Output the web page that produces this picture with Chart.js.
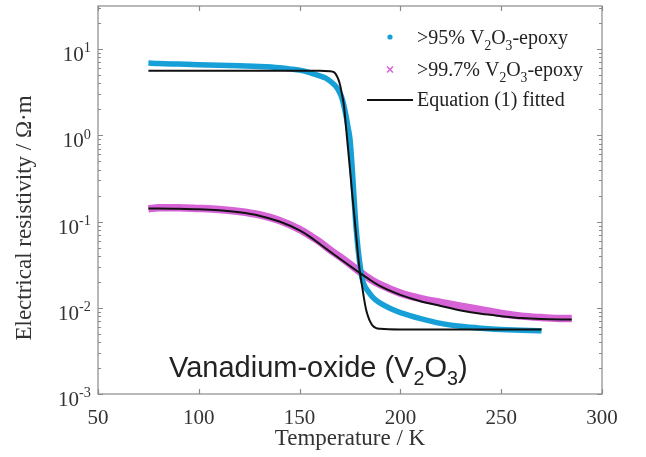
<!DOCTYPE html>
<html>
<head>
<meta charset="utf-8">
<script src="https://cdn.jsdelivr.net/npm/chart.js@4/dist/chart.umd.min.js"></script>
<style>
  html, body { margin: 0; padding: 0; background: #ffffff; }
  canvas { display: block; }
</style>
</head>
<body>
<canvas id="chart" width="646" height="457"></canvas>
<script>
// Measured resistivity, >95% V2O3-epoxy composite (temperature in K, resistivity in ohm·m)
const blueT   = [75, 80, 90, 100, 110, 120, 130, 140, 145, 150, 155, 160, 163, 166, 168, 170, 171, 172, 173, 174, 175, 176, 177, 178, 179, 180, 181, 182, 184, 186, 188, 190, 195, 200, 210, 220, 230, 240, 250, 260, 270];
const blueRho = [6.9, 6.8, 6.7, 6.6, 6.5, 6.4, 6.3, 6.1, 5.9, 5.7, 5.35, 4.9, 4.6, 4.1, 3.7, 3.1, 2.7, 2.2, 1.7, 1.25, 0.9, 0.45, 0.19, 0.085, 0.048, 0.031, 0.022, 0.0185, 0.0155, 0.0135, 0.0122, 0.0113, 0.0098, 0.0088, 0.0075, 0.0066, 0.0061, 0.0058, 0.0056, 0.0055, 0.0054];

// Measured resistivity, >99.7% V2O3-epoxy composite
const pinkT   = [75, 80, 90, 100, 110, 120, 130, 140, 150, 155, 160, 165, 170, 175, 180, 185, 190, 200, 210, 220, 230, 240, 250, 260, 270, 280, 285];
const pinkRho = [0.14, 0.145, 0.145, 0.142, 0.138, 0.131, 0.12, 0.103, 0.081, 0.069, 0.058, 0.047, 0.039, 0.032, 0.026, 0.0215, 0.0185, 0.0148, 0.0128, 0.0115, 0.0104, 0.0095, 0.0086, 0.008, 0.0077, 0.0075, 0.0075];

// Equation (1) fitted to the >95% sample
const fitBlueT   = [75, 100, 130, 160, 165, 167, 168, 169, 170, 171, 172, 173, 174, 175, 176, 177, 178, 179, 180, 181, 182, 183, 184, 185, 186, 188, 190, 200, 230, 270];
const fitBlueRho = [5.6, 5.6, 5.6, 5.6, 5.55, 5.4, 5.1, 4.6, 3.9, 3.0, 2.2, 1.26, 0.71, 0.4, 0.22, 0.126, 0.071, 0.04, 0.025, 0.0178, 0.0126, 0.0095, 0.0079, 0.0069, 0.0063, 0.0058, 0.0057, 0.0056, 0.0056, 0.0056];

// Equation (1) fitted to the >99.7% sample
const fitPinkT   = [75, 80, 90, 100, 110, 120, 130, 140, 150, 155, 160, 165, 170, 175, 180, 185, 190, 200, 210, 220, 230, 240, 250, 260, 270, 285];
const fitPinkRho = [0.142, 0.142, 0.141, 0.139, 0.135, 0.128, 0.117, 0.1, 0.079, 0.067, 0.055, 0.045, 0.037, 0.0305, 0.0252, 0.021, 0.0178, 0.0141, 0.0119, 0.0105, 0.0093, 0.0085, 0.008, 0.0076, 0.0074, 0.0073];

// Axis ticks
const xTicks   = [50, 100, 150, 200, 250, 300];
const yDecades = [-3, -2, -1, 0, 1];
const xRange   = [50, 300];
const yRange   = [1e-3, Math.pow(10, 1.5)];

const BLUE = 'rgb(22,160,215)';
const PINK = 'rgb(215,100,215)';
const AXIS = '#8a8a8a';
const SERIF = '"Liberation Serif", "Times New Roman", serif';
const SANS = '"Liberation Sans", Arial, sans-serif';

const pts = (xs, ys) => xs.map((x, i) => ({ x: x, y: ys[i] }));

// Draws text made of [string, 'sub'|'sup'|null] pieces starting at (x, y baseline)
function drawRich(ctx, pieces, x, y, size, family, color) {
  ctx.fillStyle = color;
  ctx.textBaseline = 'alphabetic';
  ctx.textAlign = 'left';
  let cx = x;
  for (const [txt, kind] of pieces) {
    let fs = size, dy = 0;
    if (kind === 'sub') { fs = size * 0.68; dy = size * 0.28; }
    if (kind === 'sup') { fs = size * 0.68; dy = -size * 0.42; }
    ctx.font = fs + 'px ' + family;
    ctx.fillText(txt, cx, y + dy);
    cx += ctx.measureText(txt).width;
  }
  return cx - x;
}
function richWidth(ctx, pieces, size, family) {
  let w = 0;
  for (const [txt, kind] of pieces) {
    const fs = kind ? size * 0.68 : size;
    ctx.font = fs + 'px ' + family;
    w += ctx.measureText(txt).width;
  }
  return w;
}

const framePlugin = {
  id: 'frame',
  afterDraw(chart) {
    const { ctx, chartArea: a, scales } = chart;
    const xs = scales.x, ys = scales.y;
    ctx.save();

    // box
    ctx.strokeStyle = AXIS;
    ctx.lineWidth = 1.2;
    ctx.strokeRect(a.left, a.top, a.right - a.left, a.bottom - a.top);

    // x ticks (inward, bottom and top)
    ctx.beginPath();
    for (const t of xTicks) {
      const px = Math.round(xs.getPixelForValue(t)) + 0.5;
      ctx.moveTo(px, a.bottom); ctx.lineTo(px, a.bottom - 5);
      ctx.moveTo(px, a.top); ctx.lineTo(px, a.top + 5);
    }
    // y ticks: decades plus minor 2..9
    for (let d = -3; d <= 1; d++) {
      for (let m = 1; m <= 9; m++) {
        const v = m * Math.pow(10, d);
        if (v < yRange[0] || v > yRange[1]) continue;
        const py = Math.round(ys.getPixelForValue(v)) + 0.5;
        const len = m === 1 ? 5 : 3;
        ctx.moveTo(a.left, py); ctx.lineTo(a.left + len, py);
        ctx.moveTo(a.right, py); ctx.lineTo(a.right - len, py);
      }
    }
    ctx.stroke();

    // x tick labels
    ctx.fillStyle = '#333';
    ctx.font = '21px ' + SERIF;
    ctx.textAlign = 'center';
    ctx.textBaseline = 'alphabetic';
    for (const t of xTicks) {
      ctx.fillText(String(t), xs.getPixelForValue(t), a.bottom + 30);
    }

    // y tick labels 10^n
    for (const d of yDecades) {
      const py = ys.getPixelForValue(Math.pow(10, d));
      const pieces = [['10', null], [String(d), 'sup']];
      const w = richWidth(ctx, pieces, 21, SERIF);
      drawRich(ctx, pieces, a.left - 7 - w, py + 12, 21, SERIF, '#333');
    }

    // axis titles
    ctx.fillStyle = '#333';
    ctx.font = '23px ' + SERIF;
    ctx.textAlign = 'center';
    ctx.fillText('Temperature / K', (a.left + a.right) / 2, 445);
    ctx.save();
    ctx.translate(31, (a.top + a.bottom) / 2 + 18);
    ctx.rotate(-Math.PI / 2);
    ctx.fillText('Electrical resistivity / \u03A9\u00B7m', 0, 0);
    ctx.restore();

    // legend
    const lx = 390;
    ctx.fillStyle = BLUE;
    ctx.beginPath(); ctx.arc(lx, 37, 2.6, 0, Math.PI * 2); ctx.fill();
    ctx.strokeStyle = PINK; ctx.lineWidth = 1.6;
    ctx.beginPath();
    ctx.moveTo(lx - 3, 66.5); ctx.lineTo(lx + 3, 72.5);
    ctx.moveTo(lx + 3, 66.5); ctx.lineTo(lx - 3, 72.5);
    ctx.stroke();
    ctx.strokeStyle = '#111'; ctx.lineWidth = 2.2;
    ctx.beginPath(); ctx.moveTo(367, 100); ctx.lineTo(413, 100); ctx.stroke();
    drawRich(ctx, [['>95% V', null], ['2', 'sub'], ['O', null], ['3', 'sub'], ['-epoxy', null]], 417, 44, 20, SERIF, '#222');
    drawRich(ctx, [['>99.7% V', null], ['2', 'sub'], ['O', null], ['3', 'sub'], ['-epoxy', null]], 417, 76, 20, SERIF, '#222');
    drawRich(ctx, [['Equation (1) fitted', null]], 417, 106, 20, SERIF, '#222');

    // material annotation
    drawRich(ctx, [['Vanadium-oxide (V', null], ['2', 'sub'], ['O', null], ['3', 'sub'], [')', null]], 169, 377, 29, SANS, '#222');

    ctx.restore();
  }
};

new Chart(document.getElementById('chart'), {
  type: 'line',
  data: {
    datasets: [
      { label: 'Equation (1) fitted', data: pts(fitBlueT, fitBlueRho), borderColor: '#111', borderWidth: 2, pointRadius: 0, cubicInterpolationMode: 'monotone' },
      { label: 'Equation (1) fitted', data: pts(fitPinkT, fitPinkRho), borderColor: '#111', borderWidth: 2, pointRadius: 0, cubicInterpolationMode: 'monotone' },
      { label: '>95% V2O3-epoxy', data: pts(blueT, blueRho), borderColor: BLUE, borderWidth: 5.5, pointRadius: 0, cubicInterpolationMode: 'monotone' },
      { label: '>99.7% V2O3-epoxy', data: pts(pinkT, pinkRho), borderColor: PINK, borderWidth: 7.5, pointRadius: 0, cubicInterpolationMode: 'monotone' }
    ]
  },
  options: {
    responsive: false,
    animation: false,
    devicePixelRatio: 1,
    layout: { padding: { left: 98, right: 44, top: 6, bottom: 63 } },
    plugins: { legend: { display: false }, tooltip: { enabled: false } },
    scales: {
      x: { type: 'linear', min: xRange[0], max: xRange[1], display: false },
      y: { type: 'logarithmic', min: yRange[0], max: yRange[1], display: false }
    }
  },
  plugins: [framePlugin]
});
</script>
</body>
</html>
